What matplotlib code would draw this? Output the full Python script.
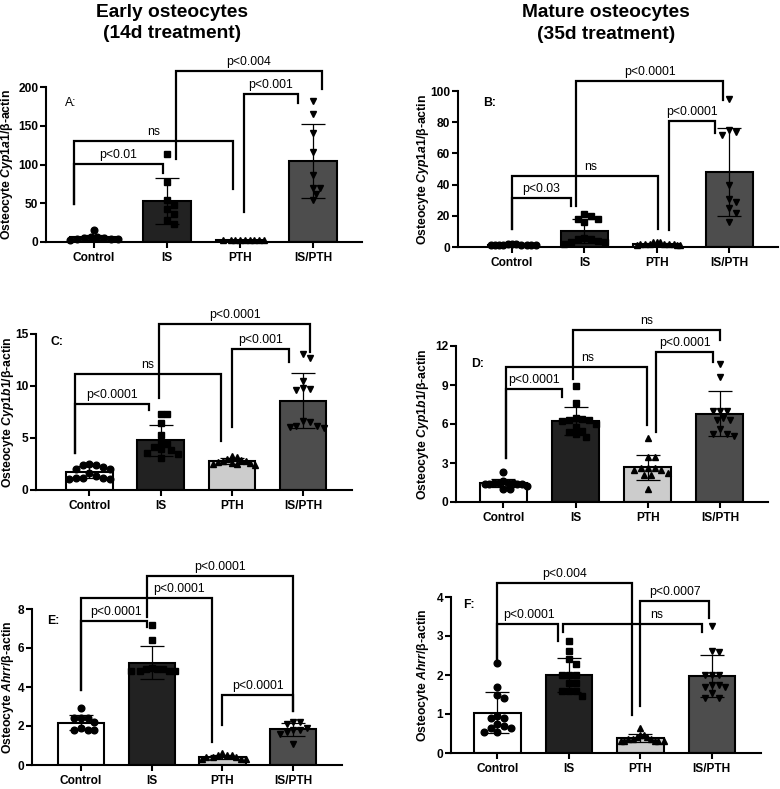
import numpy as np
import matplotlib
matplotlib.use("Agg")
import matplotlib.pyplot as plt

plt.rcParams['font.family'] = ['Liberation Sans', 'DejaVu Sans']
plt.rcParams['mathtext.fontset'] = 'custom'
plt.rcParams['mathtext.rm'] = 'Liberation Sans:bold'
plt.rcParams['mathtext.it'] = 'Liberation Sans:italic:bold'
plt.rcParams['mathtext.bf'] = 'Liberation Sans:bold'

# ---------------- data ----------------
groups = ["Control", "IS", "PTH", "IS/PTH"]

a_control = [15, 4, 7, 5, 6, 4, 5, 4, 3]
a_is = [114, 78, 54, 48, 42, 36, 28, 23]
a_pth = [2, 3, 2, 3, 2, 2, 3, 2, 3]
a_ispth = [182, 165, 141, 116, 86, 70, 70, 62, 54]

b_control = [1, 2, 1.5, 1, 2, 1, 1.5, 1, 2, 1.5, 1]
b_is = [20, 21, 18, 16, 18, 5, 4, 3, 2, 5, 3, 6]
b_pth = [2, 3, 1, 2, 3, 2, 1, 2, 3, 2, 1, 2]
b_ispth = [95, 75, 74, 72, 40, 31, 29, 25, 22, 16]

c_control = [2.0, 1.6, 1.2, 2.4, 2.5, 2.4, 1.1, 1.2, 1.1, 2.2, 1.2, 1.3, 2.0]
c_is = [7.3, 7.3, 6.4, 5.3, 4.6, 3.8, 3.6, 3.5, 3.1, 4.4, 3.9, 4.1]
c_pth = [2.6, 2.8, 2.7, 3.0, 3.2, 2.9, 2.6, 2.5, 3.3, 2.5, 2.8, 2.4]
c_ispth = [12.7, 13.1, 10.5, 9.7, 9.8, 9.6, 6.6, 6.2, 6.5, 6.0, 6.2, 6.1]

d_control = [2.3, 1.5, 1.5, 1.4, 1.0, 1.5, 1.2, 1.5, 1.0, 1.4, 1.4, 1.6, 1.4]
d_is = [8.9, 7.6, 6.5, 6.3, 6.4, 6.2, 5.8, 5.2, 5.0, 6.0, 5.5, 6.3, 5.4]
d_pth = [4.9, 3.5, 3.5, 2.6, 2.5, 2.6, 2.1, 2.2, 2.1, 2.5, 2.6, 1.0]
d_ispth = [10.6, 9.6, 7.0, 7.0, 7.0, 6.3, 6.3, 5.6, 5.2, 5.1, 5.2, 6.5]

e_control = [2.9, 2.4, 2.4, 2.2, 2.4, 1.8, 1.9, 1.8, 1.8]
e_is = [7.2, 6.4, 5.0, 4.8, 4.8, 4.8, 4.8, 4.9, 4.9, 4.9]
e_pth = [0.5, 0.4, 0.3, 0.5, 0.6, 0.4, 0.3, 0.4, 0.3, 0.5]
e_ispth = [2.2, 1.8, 1.7, 2.1, 1.1, 2.2, 1.8, 1.9, 1.6]

f_control = [2.3, 1.7, 1.5, 1.4, 0.9, 0.95, 0.9, 0.75, 0.65, 0.7, 0.55, 0.55, 0.65]
f_is = [2.87, 2.62, 2.4, 2.27, 2.0, 2.0, 2.0, 1.8, 1.8, 1.6, 1.6, 1.6, 1.45]
f_pth = [0.65, 0.45, 0.4, 0.35, 0.3, 0.3, 0.35, 0.4, 0.3, 0.35, 0.3, 0.45, 0.3]
f_ispth = [3.25, 2.62, 2.58, 2.0, 2.0, 2.0, 1.75, 1.7, 1.75, 1.4, 1.4, 1.7, 1.55]

a_yticks = [0, 50, 100, 150, 200]
b_yticks = [0, 20, 40, 60, 80, 100]
c_yticks = [0, 5, 10, 15]
d_yticks = [0, 3, 6, 9, 12]
e_yticks = [0, 2, 4, 6, 8]
f_yticks = [0, 1, 2, 3, 4]

# significance annotations: (x_left, y_left_bottom, x_right, y_right_bottom, y_top, label, text_x)
a_sig = [(-0.27, 48.6, 0.94, 88.6, 100.3, "p<0.01", None),
         (-0.27, 48.6, 1.90, 68.0, 130.3, "ns", None),
         (1.12, 106.7, 3.12, 197.0, 221.0, "p<0.004", None),
         (2.05, 38.3, 2.79, 179.0, 190.5, "p<0.001", None)]
b_sig = [(0.0, 11.5, 0.81, 26.5, 31.2, "p<0.03", None),
         (0.0, 11.5, 2.02, 11.5, 45.7, "ns", 1.08),
         (0.89, 26.0, 2.92, 94.2, 106.4, "p<0.0001", None),
         (2.17, 11.0, 2.80, 72.9, 80.8, "p<0.0001", None)]
c_sig = [(-0.2, 3.6, 0.83, 7.65, 8.24, "p<0.0001", None),
         (-0.2, 3.6, 1.85, 4.7, 11.15, "ns", None),
         (0.98, 8.85, 3.10, 13.3, 15.93, "p<0.0001", None),
         (2.0, 6.05, 2.80, 12.3, 13.6, "p<0.001", None)]
d_sig = [(0.04, 3.36, 0.81, 8.1, 8.67, "p<0.0001", None),
         (0.04, 3.36, 1.99, 5.92, 10.4, "ns", 1.17),
         (0.97, 9.45, 3.0, 12.46, 13.23, "ns", None),
         (2.11, 5.41, 2.91, 10.8, 11.56, "p<0.0001", None)]
e_sig = [(0.0, 3.86, 0.93, 7.1, 7.37, "p<0.0001", 0.5),
         (0.0, 3.86, 1.85, 1.18, 8.56, "p<0.0001", 1.39),
         (0.93, 7.59, 3.0, 2.75, 9.69, "p<0.0001", None),
         (1.99, 2.07, 3.0, 2.75, 3.57, "p<0.0001", None)]
f_sig = [(0.0, 2.42, 1.88, 0.97, 4.35, "p<0.004", 0.94),
         (0.0, 2.42, 0.845, 2.88, 3.31, "p<0.0001", 0.44),
         (0.92, 3.11, 2.86, 3.11, 3.31, "ns", 2.23),
         (2.0, 1.2, 2.96, 3.45, 3.9, "p<0.0007", None)]

# ---------------- style ----------------
W, H = 780, 789
bar_colors = ["white", "#222222", "#cccccc", "#4d4d4d"]
markers = ["o", "s", "^", "v"]
BAR_W = 0.65

fig = plt.figure(figsize=(W / 100, H / 100), dpi=100)


def add_axes_px(l, t, r, b):
    return fig.add_axes([l / W, 1 - b / H, (r - l) / W, (b - t) / H])


def swarm_offsets(ax, xc, vals, msize_px, half_width):
    vals = np.asarray(vals, float)
    pts = ax.transData.transform(np.column_stack([np.full(len(vals), xc), vals]))
    ys = pts[:, 1]
    order = np.argsort(-vals, kind="stable")
    placed = []
    out = np.zeros(len(vals))
    cands = [0.0]
    for j in range(1, 60):
        cands += [j * msize_px * 0.5, -j * msize_px * 0.5]
    for k in order:
        chosen = 0.0
        for c in cands:
            if all(np.hypot(c - px, ys[k] - py) >= msize_px for px, py in placed):
                chosen = c
                break
        out[k] = chosen
        placed.append((chosen, ys[k]))
    ppu = ax.transData.transform((1, 0))[0] - ax.transData.transform((0, 0))[0]
    offs = out / ppu
    m = np.abs(offs).max()
    if m > half_width:
        offs *= half_width / m
    return offs


def draw_panel(box, xlim, data, yticks, gene, tag, tag_xy, tag_bold, ylab_dx, sig):
    ax = add_axes_px(*box)
    ax.set_xlim(*xlim)
    ax.set_ylim(yticks[0], yticks[-1])
    x = np.arange(len(groups))
    means = [np.mean(v) for v in data]
    sds = [np.std(v, ddof=1) for v in data]
    ax.bar(x, means, width=BAR_W, color=bar_colors, edgecolor="black",
           linewidth=1.5, zorder=1)
    ax.errorbar(x, means, yerr=sds, fmt="none", ecolor="black", elinewidth=0.9,
                capsize=8.5, capthick=0.9, zorder=2)
    for i, vals in enumerate(data):
        offs = swarm_offsets(ax, i, vals, 6.8, BAR_W * 0.5)
        ax.plot(i + offs, vals, ls="none", marker=markers[i], ms=4.8,
                color="black", zorder=3, clip_on=False)
    for (xl, yl, xr, yr, top, lab, tx) in sig:
        ax.plot([xl, xl, xr, xr], [yl, top, top, yr], color="black", lw=1.6,
                clip_on=False, solid_joinstyle="miter", zorder=4)
        if tx is None:
            tx = (xl + xr) / 2
        ax.annotate(lab, xy=(tx, top), xytext=(0, 2.2), textcoords="offset points",
                    ha="center", va="bottom", fontsize=8.8, annotation_clip=False)
    ax.set_xticks(x)
    ax.set_xticklabels(groups, fontweight="bold", fontsize=8.6)
    ax.set_yticks(yticks)
    ax.set_yticklabels([str(t) for t in yticks], fontweight="bold", fontsize=8.6)
    for s in ["top", "right"]:
        ax.spines[s].set_visible(False)
    for s in ["left", "bottom"]:
        ax.spines[s].set_linewidth(1.5)
    ax.tick_params(axis="both", width=1.5, length=4, direction="out")
    ax.tick_params(axis="x", pad=3.5)
    ax.tick_params(axis="y", pad=1.5)
    ax.set_ylabel("Osteocyte $\\mathit{" + gene + "}$/β-actin", fontweight="bold",
                  fontsize=8.8, va="center")
    wpx = box[2] - box[0]
    ax.yaxis.set_label_coords(-ylab_dx / wpx, 0.5)
    ax.text(tag_xy[0], tag_xy[1], tag, transform=ax.transAxes, ha="center",
            va="center", fontsize=8.8, fontweight="bold" if tag_bold else "normal")
    return ax


draw_panel((46, 87, 362, 242), (-0.658, 3.67), [a_control, a_is, a_pth, a_ispth],
           a_yticks, "Cyp1a1", "A:", (0.079, 0.9), False, 39, a_sig)
draw_panel((458, 91, 778, 247), (-0.746, 3.674), [b_control, b_is, b_pth, b_ispth],
           b_yticks, "Cyp1a1", "B:", (0.098, 0.923), True, 35, b_sig)
draw_panel((36, 334, 352, 490), (-0.748, 3.684), [c_control, c_is, c_pth, c_ispth],
           c_yticks, "Cyp1b1", "C:", (0.067, 0.947), True, 28, c_sig)
draw_panel((456, 346, 768, 502), (-0.655, 3.666), [d_control, d_is, d_pth, d_ispth],
           d_yticks, "Cyp1b1", "D:", (0.068, 0.885), True, 33, d_sig)
draw_panel((32, 609, 342, 765), (-0.687, 3.686), [e_control, e_is, e_pth, e_ispth],
           e_yticks, "Ahrr", "E:", (0.069, 0.923), True, 24, e_sig)
draw_panel((451, 597, 761, 753), (-0.648, 3.688), [f_control, f_is, f_pth, f_ispth],
           f_yticks, "Ahrr", "F:", (0.059, 0.949), True, 28, f_sig)

fig.text(172 / W, 1 - 17 / H, "Early osteocytes", ha="center", va="baseline",
         fontsize=13.8, fontweight="bold")
fig.text(172 / W, 1 - 38.5 / H, "(14d treatment)", ha="center", va="baseline",
         fontsize=13.8, fontweight="bold")
fig.text(606 / W, 1 - 17 / H, "Mature osteocytes", ha="center", va="baseline",
         fontsize=13.8, fontweight="bold")
fig.text(606 / W, 1 - 39 / H, "(35d treatment)", ha="center", va="baseline",
         fontsize=13.8, fontweight="bold")

fig.savefig("out.png", dpi=100)
